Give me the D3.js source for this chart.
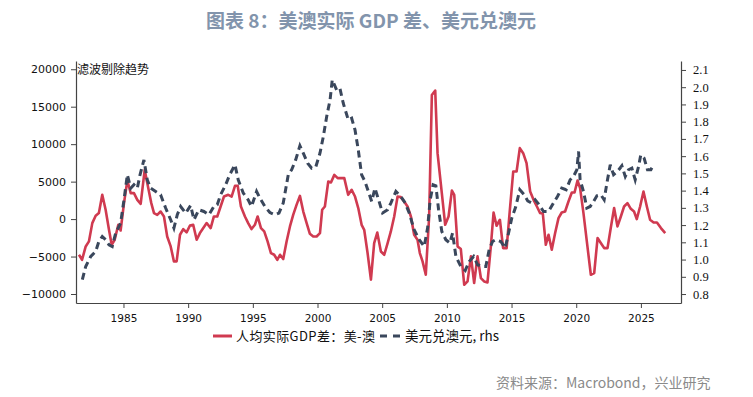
<!DOCTYPE html>
<html><head><meta charset="utf-8">
<script src="https://cdn.jsdelivr.net/npm/d3@7"></script>
<style>
body{margin:0;background:#fff;}
svg{display:block;}
</style></head>
<body>
<svg id="c" width="753" height="397"></svg>
<script>
const yearTicks = [1985,1990,1995,2000,2005,2010,2015,2020,2025];
const leftTicks = [-10000,-5000,0,5000,10000,15000,20000];
const rightTicks = [0.8,0.9,1.0,1.1,1.2,1.3,1.4,1.5,1.6,1.7,1.8,1.9,2.0,2.1];

const gdpGapDates = [1981.56,1981.80,1982.08,1982.33,1982.59,1982.85,1983.10,1983.36,1983.62,1983.88,1984.09,1984.32,1984.60,1984.78,1985.04,1985.30,1985.56,1985.81,1986.07,1986.33,1986.64,1986.84,1987.15,1987.36,1987.61,1987.87,1988.13,1988.38,1988.65,1988.90,1989.11,1989.37,1989.62,1989.88,1990.14,1990.39,1990.66,1990.91,1991.17,1991.43,1991.74,1991.99,1992.25,1992.51,1992.77,1993.10,1993.36,1993.62,1993.83,1994.08,1994.39,1994.64,1994.90,1995.16,1995.37,1995.63,1995.88,1996.14,1996.40,1996.65,1996.89,1997.10,1997.35,1997.61,1997.87,1998.12,1998.38,1998.64,1998.90,1999.16,1999.41,1999.67,1999.93,2000.19,2000.36,2000.57,2000.83,2001.04,2001.30,2001.56,2001.81,2002.07,2002.37,2002.64,2002.90,2003.15,2003.41,2003.61,2003.87,2004.13,2004.38,2004.62,2004.90,2005.16,2005.42,2005.67,2005.93,2006.19,2006.44,2006.70,2006.96,2007.22,2007.47,2007.73,2007.91,2008.12,2008.37,2008.63,2008.84,2009.10,2009.28,2009.61,2009.87,2010.13,2010.39,2010.57,2010.83,2011.08,2011.34,2011.60,2011.86,2012.11,2012.37,2012.63,2012.88,2013.14,2013.40,2013.61,2013.84,2014.10,2014.35,2014.62,2014.87,2015.13,2015.39,2015.64,2015.90,2016.16,2016.44,2016.70,2016.96,2017.21,2017.42,2017.65,2017.86,2018.11,2018.37,2018.63,2018.88,2019.14,2019.40,2019.66,2019.87,2020.10,2020.30,2020.56,2020.82,2021.13,2021.39,2021.65,2021.90,2022.16,2022.42,2022.67,2022.93,2023.19,2023.45,2023.70,2023.96,2024.22,2024.47,2024.68,2024.94,2025.20,2025.46,2025.71,2025.98,2026.24,2026.55,2026.88];
const gdpGapValues = [-4760,-5430,-3650,-2980,-540,440,800,3240,1240,-1430,-3430,-2760,-760,-1520,2130,5150,3470,3470,2570,2040,6570,4800,2130,800,570,1010,350,-2320,-3650,-5650,-5650,-2090,-1330,-1780,-850,-760,-2760,-1870,-1200,-530,-1200,350,350,1680,3010,3240,3010,4440,4440,1680,350,-530,-1330,-760,350,-1200,-1650,-2980,-4530,-4760,-5430,-4760,-5330,-2980,-980,570,1900,3100,1010,-530,-1960,-2320,-2320,-1870,1240,1680,5010,4880,5900,5470,5470,5470,3240,3900,3010,1470,-760,-1430,-4530,-8090,-3200,-1800,-4320,-4760,-3200,-1650,350,3010,2930,2350,1680,350,-2090,-2760,-4530,-5650,-7430,350,16570,17150,8800,3470,-760,350,3810,3240,-3650,-4000,-8760,-8320,-4980,-8530,-4980,-7870,-8320,-8450,-3650,880,-890,-90,-3870,-3870,1240,6350,6350,9470,8800,7470,3680,2570,1680,800,710,-3430,-2090,-4090,-1870,130,880,1010,2350,3550,3550,5150,4130,800,-2980,-7430,-7200,-2530,-3200,-3870,-3870,-1200,1470,-980,350,1680,2130,1370,1010,0,1680,3680,1680,-90,-450,-450,-1200,-1870];

const fxDates = [1981.82,1982.08,1982.47,1982.85,1983.10,1983.36,1983.62,1983.88,1984.13,1984.40,1984.78,1985.04,1985.30,1985.56,1985.81,1986.07,1986.28,1986.58,1986.84,1987.10,1987.49,1987.87,1988.26,1988.65,1988.90,1989.16,1989.42,1989.81,1990.19,1990.45,1990.83,1991.22,1991.61,1991.99,1992.25,1992.51,1992.90,1993.20,1993.62,1993.87,1994.26,1994.64,1994.90,1995.29,1995.55,1995.93,1996.32,1996.71,1997.02,1997.35,1997.74,1998.00,1998.31,1998.64,1998.90,1999.24,1999.55,1999.86,2000.19,2000.45,2000.71,2000.97,2001.14,2001.48,2001.73,2001.99,2002.38,2002.64,2002.90,2003.15,2003.41,2003.67,2003.93,2004.19,2004.44,2004.75,2005.03,2005.42,2005.67,2006.06,2006.44,2006.78,2007.09,2007.47,2007.86,2008.25,2008.51,2008.71,2008.94,2009.15,2009.36,2009.61,2009.92,2010.23,2010.44,2010.70,2011.08,2011.42,2011.73,2012.07,2012.37,2012.70,2013.01,2013.27,2013.53,2013.78,2014.17,2014.51,2014.77,2015.02,2015.33,2015.64,2015.98,2016.25,2016.56,2016.82,2017.08,2017.47,2017.86,2018.24,2018.55,2018.88,2019.22,2019.53,2019.79,2020.05,2020.18,2020.30,2020.56,2020.82,2021.08,2021.34,2021.60,2021.90,2022.16,2022.37,2022.63,2022.89,2023.19,2023.53,2023.79,2024.04,2024.30,2024.56,2024.82,2024.99,2025.25,2025.51,2025.77,2025.93];
const fxValues = [0.883,0.96,1.018,1.047,1.105,1.134,1.115,1.086,1.076,1.154,1.212,1.347,1.492,1.414,1.434,1.414,1.492,1.578,1.463,1.414,1.395,1.376,1.299,1.231,1.183,1.26,1.308,1.269,1.314,1.231,1.289,1.279,1.26,1.308,1.318,1.376,1.434,1.49,1.55,1.463,1.386,1.347,1.308,1.395,1.356,1.308,1.273,1.26,1.27,1.328,1.492,1.521,1.578,1.66,1.617,1.559,1.53,1.536,1.617,1.714,1.83,1.926,2.042,1.984,1.994,1.907,1.81,1.82,1.752,1.637,1.492,1.453,1.395,1.337,1.414,1.34,1.27,1.289,1.328,1.395,1.366,1.328,1.27,1.173,1.115,1.076,1.183,1.347,1.434,1.428,1.289,1.163,1.115,1.096,1.154,1.018,0.96,0.937,0.989,1.018,0.97,0.96,0.96,1.057,1.105,1.115,1.105,1.067,1.154,1.241,1.308,1.405,1.376,1.34,1.328,1.347,1.323,1.279,1.279,1.328,1.366,1.414,1.405,1.463,1.482,1.521,1.627,1.463,1.395,1.299,1.308,1.337,1.37,1.376,1.347,1.443,1.55,1.492,1.511,1.544,1.482,1.521,1.53,1.463,1.54,1.607,1.588,1.521,1.521,1.544];

const titleText = "图表 8：美澳实际 GDP 差、美元兑澳元";
const noteText = "滤波剔除趋势";
const legendGdp = "人均实际GDP差：美-澳";
const legendFx = "美元兑澳元, rhs";
const sourceText = "资料来源：Macrobond，兴业研究";

const RED = "#d03a50", NAVY = "#3a475c", AX = "#444";
const svg = d3.select("#c");
const L = 76, R = 681, T = 61, B = 303;

const x = d3.scaleLinear().domain([1981.33, 2028.1]).range([L, R]);
const yL = d3.scaleLinear().domain([-11200, 21100]).range([B, T]);
const yR = d3.scaleLinear().domain([0.748, 2.152]).range([B, T]);

// title
svg.append("text").attr("x", 371).attr("y", 28).attr("text-anchor", "middle")
  .attr("font-family", "Noto Sans CJK SC").attr("font-weight", "bold")
  .attr("font-size", 19).attr("fill", "#8294ac").text(titleText);

// axes
const gL = svg.append("g").attr("transform", `translate(${L},0)`)
  .call(d3.axisLeft(yL).tickValues(leftTicks).tickFormat(d3.format("d")).tickSize(5).tickSizeOuter(0).tickPadding(5));
const gR = svg.append("g").attr("transform", `translate(${R},0)`)
  .call(d3.axisRight(yR).tickValues(rightTicks).tickFormat(d3.format(".1f")).tickSize(5).tickSizeOuter(0).tickPadding(7));
const gB = svg.append("g").attr("transform", `translate(0,${B})`)
  .call(d3.axisBottom(x).tickValues(yearTicks).tickFormat(d3.format("d")).tickSize(5).tickSizeOuter(0).tickPadding(7));

[gL, gR, gB].forEach(g => {
  g.selectAll("path.domain").attr("stroke", AX).attr("stroke-width", 1.2);
  g.selectAll(".tick line").attr("stroke", AX);
  g.selectAll(".tick text").attr("fill", "#111");
});
gL.selectAll(".tick text").attr("font-family", "DejaVu Sans").attr("font-size", 11);
gB.selectAll(".tick text").attr("font-family", "DejaVu Sans").attr("font-size", 10.5);
gR.selectAll(".tick text").attr("font-family", "Liberation Serif").attr("font-size", 12.5);

// note
svg.append("text").attr("x", L + 1).attr("y", 74)
  .attr("font-family", "Noto Sans CJK SC").attr("font-size", 12).attr("fill", "#111").text(noteText);

// lines
const gdpData = gdpGapDates.map((d, i) => [d, gdpGapValues[i]]);
const fxData = fxDates.map((d, i) => [d, fxValues[i]]);

svg.append("path").datum(gdpData)
  .attr("fill", "none").attr("stroke", RED).attr("stroke-width", 2.6).attr("stroke-linejoin", "round")
  .attr("d", d3.line().x(d => x(d[0])).y(d => yL(d[1])));

svg.append("path").datum(fxData)
  .attr("fill", "none").attr("stroke", NAVY).attr("stroke-width", 3).attr("stroke-dasharray", "7,4.5")
  .attr("d", d3.line().x(d => x(d[0])).y(d => yR(d[1])));

// legend
const ly = 336;
svg.append("line").attr("x1", 213).attr("x2", 232).attr("y1", ly).attr("y2", ly)
  .attr("stroke", RED).attr("stroke-width", 3);
svg.append("text").attr("x", 236).attr("y", ly + 4.5).attr("font-family", "Noto Sans CJK SC")
  .attr("font-size", 13).attr("fill", "#111").attr("textLength", 139).text(legendGdp);
svg.append("line").attr("x1", 380).attr("x2", 401).attr("y1", ly).attr("y2", ly)
  .attr("stroke", NAVY).attr("stroke-width", 3).attr("stroke-dasharray", "7,6");
svg.append("text").attr("x", 405).attr("y", ly + 4.5).attr("font-family", "Noto Sans CJK SC")
  .attr("font-size", 13.5).attr("fill", "#111").text(legendFx);

// source
svg.append("text").attr("x", 496).attr("y", 388).attr("font-family", "Noto Sans CJK SC")
  .attr("font-size", 14).attr("fill", "#8a8a8a").text(sourceText);
</script>
</body></html>
